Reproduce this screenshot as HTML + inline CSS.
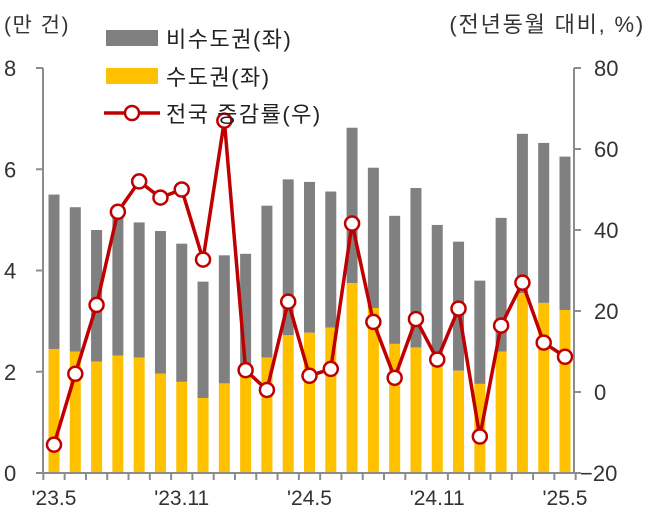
<!DOCTYPE html>
<html><head><meta charset="utf-8"><style>
body{margin:0;background:#fff;}
svg{display:block;font-family:"Liberation Sans","Noto Sans CJK KR",sans-serif;}
</style></head><body>
<svg id="chart" width="651" height="518" viewBox="0 0 651 518">
<text x="4" y="32" font-size="21" letter-spacing="1.5" fill="#333">(만 건)</text>
<text x="645" y="32" font-size="22" letter-spacing="1.8" fill="#333" text-anchor="end">(전년동월 대비, %)</text>
<g id="bars"></g><g id="axes"></g><g id="line"></g>
<g>
<rect x="106" y="30" width="52" height="16" fill="#808080"/>
<text x="166" y="47" font-size="22" letter-spacing="1.5" fill="#222">비수도권(좌)</text>
<rect x="106" y="68" width="52" height="16" fill="#FFC000"/>
<text x="166" y="85" font-size="22" letter-spacing="1.5" fill="#222">수도권(좌)</text>
<line x1="104" y1="113" x2="160" y2="113" stroke="#C00000" stroke-width="3.5"/>
<circle cx="132" cy="113" r="7" fill="#fff" stroke="#C00000" stroke-width="2.5"/>
<text x="166" y="122" font-size="22" letter-spacing="1.5" fill="#222">전국 증감률(우)</text>
</g>
</svg>
<script>
const categories=["'23.5","'23.6","'23.7","'23.8","'23.9","'23.10","'23.11","'23.12","'24.1","'24.2","'24.3","'24.4","'24.5","'24.6","'24.7","'24.8","'24.9","'24.10","'24.11","'24.12","'25.1","'25.2","'25.3","'25.4","'25.5"];
const totalValues=[5.5,5.25,4.8,5.1,4.95,4.78,4.53,3.78,4.3,4.33,5.28,5.8,5.75,5.56,6.82,6.03,5.08,5.63,4.9,4.57,3.8,5.04,6.7,6.52,6.25];
const capitalValues=[2.45,2.4,2.2,2.32,2.28,1.96,1.8,1.48,1.77,1.95,2.28,2.72,2.77,2.87,3.75,3.26,2.55,2.48,2.1,2.02,1.76,2.4,3.55,3.36,3.22];
const growthRates=[-13,4.5,21.5,44.5,52,48,50,32.7,67,5.4,0.5,22.3,4,5.7,41.6,17.3,3.5,18,8,20.6,-11,16.4,27,12.2,8.7];
const leftTicks=[0,2,4,6,8];
const rightTicks=[-20,0,20,40,60,80];
const xLabelIdx=[0,6,12,18,24];
const NS="http://www.w3.org/2000/svg";
const X0=43,X1=574,Y0=473,Y1=68;
const step=(565-54)/(categories.length-1);
const xPos=i=>54+i*step;
const yL=v=>Y0-(v-0)/(8-0)*(Y0-Y1);
const yR=v=>Y0-(v+20)/(100)*(Y0-Y1);
function mk(tag,attrs,parent){const e=document.createElementNS(NS,tag);for(const k in attrs)e.setAttribute(k,attrs[k]);parent.appendChild(e);return e;}
const gb=document.getElementById('bars'),ga=document.getElementById('axes'),gl=document.getElementById('line');
const bw=11;
categories.forEach((c,i)=>{
 const x=xPos(i)-bw/2;
 const r1=mk('rect',{x:x,y:yL(totalValues[i]),width:bw,height:yL(capitalValues[i])-yL(totalValues[i]),fill:'#808080'},gb);
 
 
 const r2=mk('rect',{x:x,y:yL(capitalValues[i]),width:bw,height:Y0-yL(capitalValues[i]),fill:'#FFC000'},gb);
 
 
});
const la=mk('line',{x1:X0,y1:Y1,x2:X0,y2:Y0+1,stroke:'#8c8c8c','stroke-width':2},ga);


const ra=mk('line',{x1:X1,y1:Y1,x2:X1,y2:Y0+1,stroke:'#8c8c8c','stroke-width':2},ga);


const xa=mk('line',{x1:36,y1:Y0,x2:X1,y2:Y0,stroke:'#8c8c8c','stroke-width':2},ga);


leftTicks.forEach(v=>{
 const t=mk('line',{x1:36,y1:yL(v),x2:X0,y2:yL(v),stroke:'#8c8c8c','stroke-width':2},ga);
 
 
 const tx=mk('text',{x:4,y:yL(v)+8,'font-size':22,fill:'#333'},ga);
 tx.textContent=v;
 
 
});
rightTicks.forEach(v=>{
 const t=mk('line',{x1:X1,y1:yR(v),x2:X1+7,y2:yR(v),stroke:'#8c8c8c','stroke-width':2},ga);
 
 
 const tx=mk('text',{x:v<0?580:594,y:yR(v)+8,'font-size':22,fill:'#333'},ga);
 tx.textContent=v<0?'−'+(-v):v;
 
 
});
for(let i=0;i<=categories.length;i++){
 const x=xPos(i)-step/2;
 const t=mk('line',{x1:x,y1:Y0,x2:x,y2:Y0+7,stroke:'#8c8c8c','stroke-width':2},ga);
 
 
}
xLabelIdx.forEach(i=>{
 const tx=mk('text',{x:xPos(i),y:505,'font-size':21,fill:'#333','text-anchor':'middle'},ga);
 tx.textContent=categories[i];
 
 
});
const pl=mk('polyline',{points:growthRates.map((v,i)=>xPos(i)+','+yR(v)).join(' '),fill:'none',stroke:'#C00000','stroke-width':3.5,'stroke-linejoin':'round'},gl);


growthRates.forEach((v,i)=>{
 const c=mk('circle',{cx:xPos(i),cy:yR(v),r:7,fill:'#fff',stroke:'#C00000','stroke-width':2.5},gl);
 
 
});
</script>
</body></html>
